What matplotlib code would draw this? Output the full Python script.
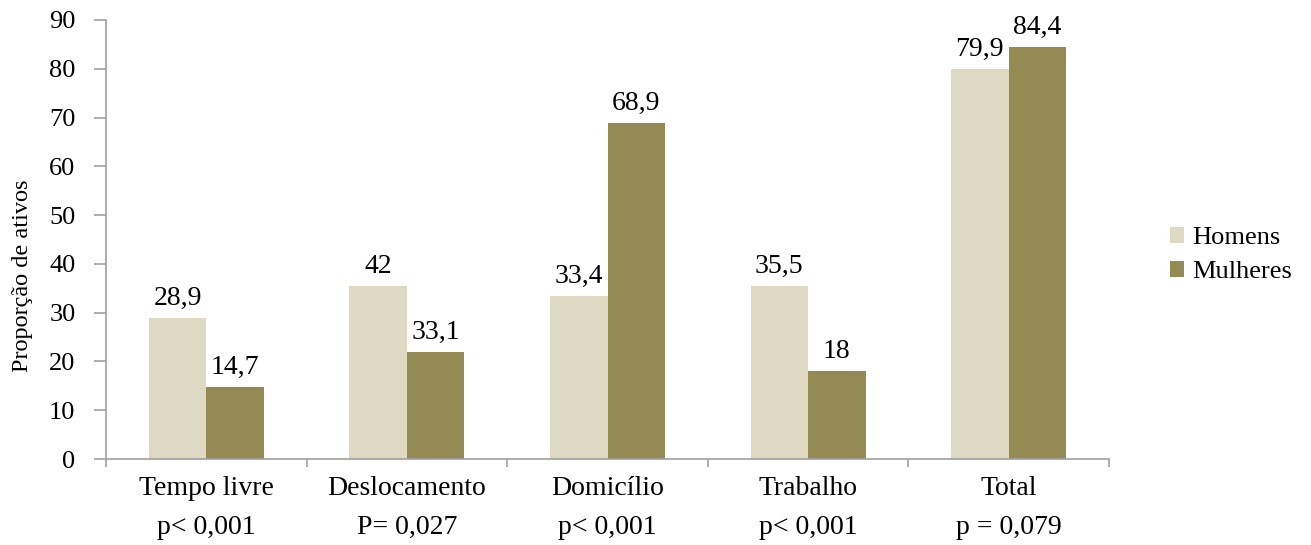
import matplotlib
matplotlib.use("Agg")
import matplotlib.pyplot as plt
import numpy as np

categories = ["Tempo livre", "Deslocamento", "Domicílio", "Trabalho", "Total"]
p_values = ["p< 0,001", "P= 0,027", "p< 0,001", "p< 0,001", "p = 0,079"]
series_names = ["Homens", "Mulheres"]
homens = [28.9, 35.5, 33.4, 35.5, 79.9]
mulheres = [14.7, 22.0, 68.9, 18.0, 84.4]
homens_labels = ["28,9", "42", "33,4", "35,5", "79,9"]
mulheres_labels = ["14,7", "33,1", "68,9", "18", "84,4"]
y_ticks = [0, 10, 20, 30, 40, 50, 60, 70, 80, 90]

plt.rcParams['font.family'] = ['Liberation Serif', 'DejaVu Serif']

fig = plt.figure(figsize=(13.11, 5.45), dpi=100)
ax = fig.add_axes([106/1311, 86/545, 1003/1311, 439/545])

n = len(categories)
x = np.arange(n) + 0.5
w = 0.287
c_h = "#DDD9C3"
c_m = "#948A54"
b1 = ax.bar(x - w/2, homens, w, color=c_h, label=series_names[0])
b2 = ax.bar(x + w/2, mulheres, w, color=c_m, label=series_names[1])

for bars, labs in ((b1, homens_labels), (b2, mulheres_labels)):
    for r, t in zip(bars, labs):
        ax.annotate(t, (r.get_x() + r.get_width()/2, r.get_height()),
                    xytext=(0, 5), textcoords="offset points",
                    ha="center", va="bottom", fontsize=20)

ax.set_xlim(0, n)
ax.set_ylim(0, 90)
ax.set_yticks(y_ticks)
ax.set_yticklabels([str(v) for v in y_ticks], fontsize=19)
ax.set_xticks(np.arange(n + 1))
ax.set_xticklabels([])
ax.set_xticks(x, minor=True)
ax.set_xticklabels([f"{c}\n{p}" for c, p in zip(categories, p_values)],
                   minor=True, fontsize=20, linespacing=1.75)
ax.tick_params(axis="x", which="minor", length=0, pad=12)
ax.tick_params(axis="x", which="major", length=6, color="#A0A0A0", width=1.2)
ax.tick_params(axis="y", length=9, color="#A0A0A0", width=1.2, pad=13)

for s in ["top", "right"]:
    ax.spines[s].set_visible(False)
for s in ["left", "bottom"]:
    ax.spines[s].set_color("#A0A0A0")
    ax.spines[s].set_linewidth(1.2)

ax.set_ylabel("Proporção de ativos", fontsize=17.5, va="center")
ax.yaxis.set_label_coords(-0.0837, 0.417)

leg = fig.legend(handles=[b1, b2], labels=series_names,
                 loc="center left", bbox_to_anchor=(1146/1311, 1 - 255/545),
                 frameon=False, fontsize=19, handlelength=0.55, handleheight=0.55,
                 handletextpad=0.3, labelspacing=0.45)

fig.savefig("out.png", dpi=100)
